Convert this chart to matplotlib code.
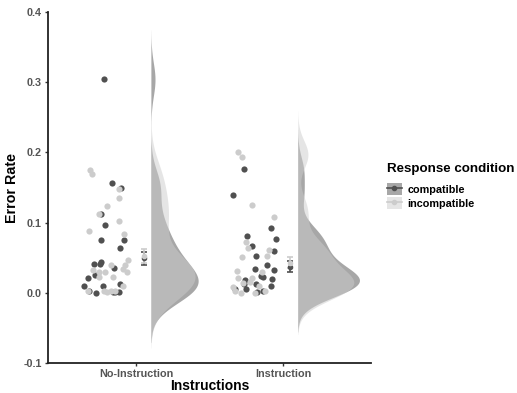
import numpy as np
import matplotlib
matplotlib.use("Agg")
import matplotlib.pyplot as plt
from matplotlib.patches import Patch
from matplotlib.lines import Line2D

plt.rcParams['font.family'] = ['Liberation Sans', 'DejaVu Sans']

# error rates per participant, with the horizontal jitter of each dot
noinst_comp = [0.304, 0.157, 0.149, 0.113, 0.096, 0.075, 0.075, 0.064, 0.041, 0.044, 0.041,
               0.035, 0.026, 0.021, 0.010, 0.010, 0.013, 0.003, 0.000, 0.001, 0.001, 0.001]
noinst_comp_jit = [-0.218, -0.163, -0.102, -0.238, -0.211, -0.238, -0.082, -0.109, -0.286, -0.238, -0.245,
                   -0.150, -0.279, -0.327, -0.354, -0.224, -0.109, -0.320, -0.272, -0.156, -0.143, -0.116]
noinst_inc = [0.175, 0.169, 0.148, 0.135, 0.124, 0.113, 0.103, 0.088, 0.084, 0.047, 0.040, 0.039, 0.034,
              0.029, 0.033, 0.030, 0.029, 0.023, 0.023, 0.010, 0.003, 0.002, 0.001, 0.002, 0.003]
noinst_inc_jit = [-0.313, -0.299, -0.116, -0.116, -0.197, -0.252, -0.116, -0.320, -0.082, -0.054, -0.170, -0.075, -0.088,
                  -0.061, -0.293, -0.252, -0.211, -0.252, -0.156, -0.088, -0.327, -0.218, -0.197, -0.170, -0.143]
inst_comp = [0.176, 0.140, 0.092, 0.077, 0.081, 0.067, 0.060, 0.052, 0.040, 0.034, 0.033,
             0.024, 0.023, 0.020, 0.018, 0.010, 0.013, 0.013, 0.001, 0.003, 0.006, 0.006]
inst_comp_jit = [-0.265, -0.340, -0.082, -0.048, -0.245, -0.211, -0.061, -0.184, -0.109, -0.190, -0.061,
                 -0.150, -0.136, -0.075, -0.259, -0.082, -0.265, -0.184, -0.177, -0.136, -0.252, -0.327]
inst_inc = [0.200, 0.194, 0.125, 0.108, 0.072, 0.064, 0.051, 0.061, 0.053, 0.031, 0.030,
            0.021, 0.021, 0.016, 0.009, 0.003, 0.000, 0.014, 0.010, 0.002, 0.000]
inst_inc_jit = [-0.306, -0.279, -0.211, -0.061, -0.252, -0.238, -0.279, -0.095, -0.109, -0.313, -0.143,
                -0.306, -0.211, -0.224, -0.340, -0.327, -0.286, -0.272, -0.163, -0.122, -0.190]

instructions = ['No-Instruction', 'Instruction']
conditions = ['compatible', 'incompatible']
# condition means and standard errors (No-Instruction, Instruction)
mean_comp = [0.049, 0.037]
se_comp = [0.009, 0.008]
mean_inc = [0.053, 0.043]
se_inc = [0.010, 0.008]

dark = '#505050'
light = '#cccccc'


def kde(vals, grid):
    v = np.asarray(vals)
    n = len(v)
    iqr = np.subtract(*np.percentile(v, [75, 25]))
    bw = 0.9 * min(v.std(ddof=1), iqr / 1.34) * n ** -0.2
    d = np.exp(-0.5 * ((grid[:, None] - v[None, :]) / bw) ** 2).sum(1) / (n * bw * np.sqrt(2 * np.pi))
    return d, bw


groups = {
    0: [(noinst_comp, noinst_comp_jit, dark), (noinst_inc, noinst_inc_jit, light)],
    1: [(inst_comp, inst_comp_jit, dark), (inst_inc, inst_inc_jit, light)],
}

fig = plt.figure(figsize=(5.17, 3.93), dpi=100)
ax = fig.add_axes([0.093, 0.0763, 0.625, 0.893])

# half violins (same area each, widest one 0.42 wide)
dens = []
for i, grp in groups.items():
    for vals, jit, col in grp:
        v = np.asarray(vals)
        _, bw = kde(v, np.array([0.0]))
        grid = np.linspace(v.min() - 3 * bw, v.max() + 3 * bw, 400)
        d, _ = kde(v, grid)
        dens.append((i, grid, d, col))
dmax = max(d.max() for _, _, d, _ in dens)
for i, grid, d, col in dens:
    x0 = i + 1 + 0.1
    ax.fill_betweenx(grid, x0, x0 + d / dmax * 0.42, color=col, alpha=0.5, lw=0, zorder=1)

# jittered points
for i, grp in groups.items():
    for vals, jit, col in grp:
        ax.scatter(i + 1 + np.asarray(jit), vals, s=20, color=col, lw=0, zorder=3)

# means with error bars
pos = np.arange(1, 3) + 0.05
for m, se, col in [(mean_comp, se_comp, dark), (mean_inc, se_inc, light)]:
    ax.errorbar(pos, m, yerr=se, fmt='o', ms=3, color=col, ecolor=col, elinewidth=1.2,
                capsize=2.5, capthick=1.2, zorder=4)

ax.set_xlim(0.4, 2.6)
ax.set_ylim(-0.1, 0.4)
ax.set_xticks([1, 2])
ax.set_xticklabels(instructions)
ax.set_yticks([-0.1, 0.0, 0.1, 0.2, 0.3, 0.4])
ax.set_yticklabels(['-0.1', '0.0', '0.1', '0.2', '0.3', '0.4'])
for s in ['top', 'right']:
    ax.spines[s].set_visible(False)
for s in ['left', 'bottom']:
    ax.spines[s].set_linewidth(1.3)
    ax.spines[s].set_color('#222222')
ax.tick_params(length=2.5, width=1, color='#333333', labelsize=7.8, labelcolor='#555555', pad=2)
for t in ax.get_xticklabels() + ax.get_yticklabels():
    t.set_fontweight('bold')
ax.set_xlabel('Instructions', fontsize=10, fontweight='bold', labelpad=0)
ax.set_ylabel('Error Rate', fontsize=10.3, fontweight='bold', labelpad=3)

handles = [(Patch(facecolor=c, alpha=0.5, lw=0),
            Line2D([0], [0], color=c, marker='o', ms=3, lw=1.2)) for c in (dark, light)]
leg = fig.legend(handles, conditions, loc='upper left', bbox_to_anchor=(0.729, 0.61),
                 frameon=False, fontsize=7.8, title='Response condition',
                 title_fontproperties={'weight': 'bold', 'size': 9.6},
                 handlelength=1.4, handleheight=1.3, handletextpad=0.5, labelspacing=0.2)
leg._legend_box.align = 'left'
leg._legend_box.sep = 6
for t in leg.get_texts():
    t.set_fontweight('bold')

fig.savefig('out.png', dpi=100)
